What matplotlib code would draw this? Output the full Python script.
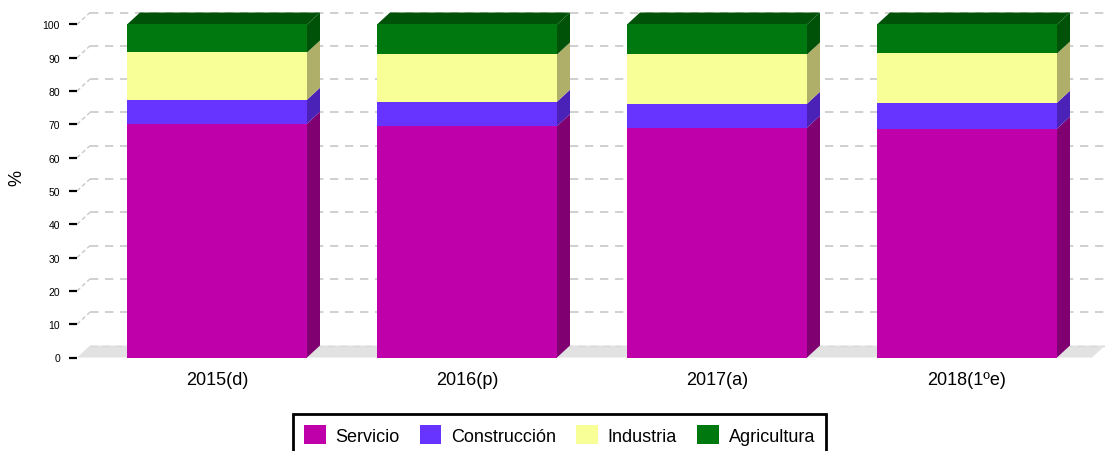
import matplotlib
matplotlib.use("Agg")
import matplotlib.pyplot as plt
from matplotlib.patches import Polygon, Patch

plt.rcParams["font.family"] = ["Liberation Sans", "DejaVu Sans"]

# datos (porcentaje del PIB por sector)
years = ["2015(d)", "2016(p)", "2017(a)", "2018(1ºe)"]
servicio = [70.2, 69.5, 69.0, 68.7]
construccion = [7.2, 7.3, 7.2, 7.8]
industria = [14.2, 14.2, 14.8, 14.8]
agricultura = [8.4, 9.0, 9.0, 8.7]

series = [
    ("Servicio", servicio, "#bf00aa", "#800072"),
    ("Construcción", construccion, "#6633ff", "#4b22b8"),
    ("Industria", industria, "#f7ff96", "#afaf6a"),
    ("Agricultura", agricultura, "#007810", "#005208"),
]

# efecto 3D: profundidad en unidades de datos
DX = 0.052
DY = 3.6
BAR_W = 0.72
X_LEFT = -0.56
X_RIGHT = 3.5

fig = plt.figure(figsize=(11.05, 4.52), dpi=100)
ax = fig.add_axes([77 / 1105, 93.5 / 452, 1028 / 1105, 345 / 452])
ax.set_xlim(X_LEFT, X_RIGHT + DX)
ax.set_ylim(0, 100 + DY)

# suelo gris
ax.add_patch(Polygon([(X_LEFT, 0), (X_RIGHT, 0), (X_RIGHT + DX, DY), (X_LEFT + DX, DY)],
                     closed=True, facecolor="#e2e2e2", edgecolor="none", zorder=1, clip_on=False))

# rejilla trasera
for v in range(10, 101, 10):
    ax.plot([X_LEFT + DX, X_RIGHT + DX], [v + DY, v + DY], color="#c8c8c8", lw=1.2,
            dashes=(5, 4), zorder=1, clip_on=False)
    ax.plot([X_LEFT, X_LEFT + DX], [v, v + DY], color="#c8c8c8", lw=1.0,
            dashes=(3, 2), zorder=1, clip_on=False)
ax.plot([X_LEFT + DX, X_RIGHT + DX], [DY, DY], color="#d8d8d8", lw=1.0,
        dashes=(5, 4), zorder=1, clip_on=False)

# barras apiladas
for i in range(len(years)):
    xl = i - BAR_W / 2
    xr = i + BAR_W / 2
    bottom = 0
    for name, vals, col, dark in series:
        top = bottom + vals[i]
        ax.bar(i, vals[i], bottom=bottom, width=BAR_W, color=col, edgecolor="none", zorder=3)
        ax.add_patch(Polygon([(xr, bottom), (xr + DX, bottom + DY), (xr + DX, top + DY), (xr, top)],
                             closed=True, facecolor=dark, edgecolor="none", zorder=2, clip_on=False))
        bottom = top
    top_col = series[-1][3]
    ax.add_patch(Polygon([(xl, bottom), (xr, bottom), (xr + DX, bottom + DY), (xl + DX, bottom + DY)],
                         closed=True, facecolor=top_col, edgecolor="none", zorder=2, clip_on=False))

for s in ax.spines.values():
    s.set_visible(False)

ax.set_yticks(range(0, 101, 10))
ax.tick_params(axis="y", length=5.8, width=1.6, pad=6.5, labelsize=7.5, colors="black")
ax.set_xticks(range(len(years)))
ax.set_xticklabels(years)
ax.tick_params(axis="x", length=0, pad=10, labelsize=13)

fig.text(17 / 1105, (452 - 178) / 452, "%", rotation=90, fontsize=13, ha="center", va="center")

handles = [Patch(facecolor=c, edgecolor="none", label=n) for n, _, c, _ in series]
leg = fig.legend(handles=handles, loc="upper center", bbox_to_anchor=(559.5 / 1105, (452 - 415) / 452),
                 ncol=4, fontsize=13, frameon=True, fancybox=False, framealpha=1,
                 handlelength=1.2, handleheight=1.2, handletextpad=0.55, columnspacing=1.1,
                 borderpad=0.62, borderaxespad=0)
leg.get_frame().set_edgecolor("black")
leg.get_frame().set_linewidth(2)

fig.savefig("out.png", dpi=100)
